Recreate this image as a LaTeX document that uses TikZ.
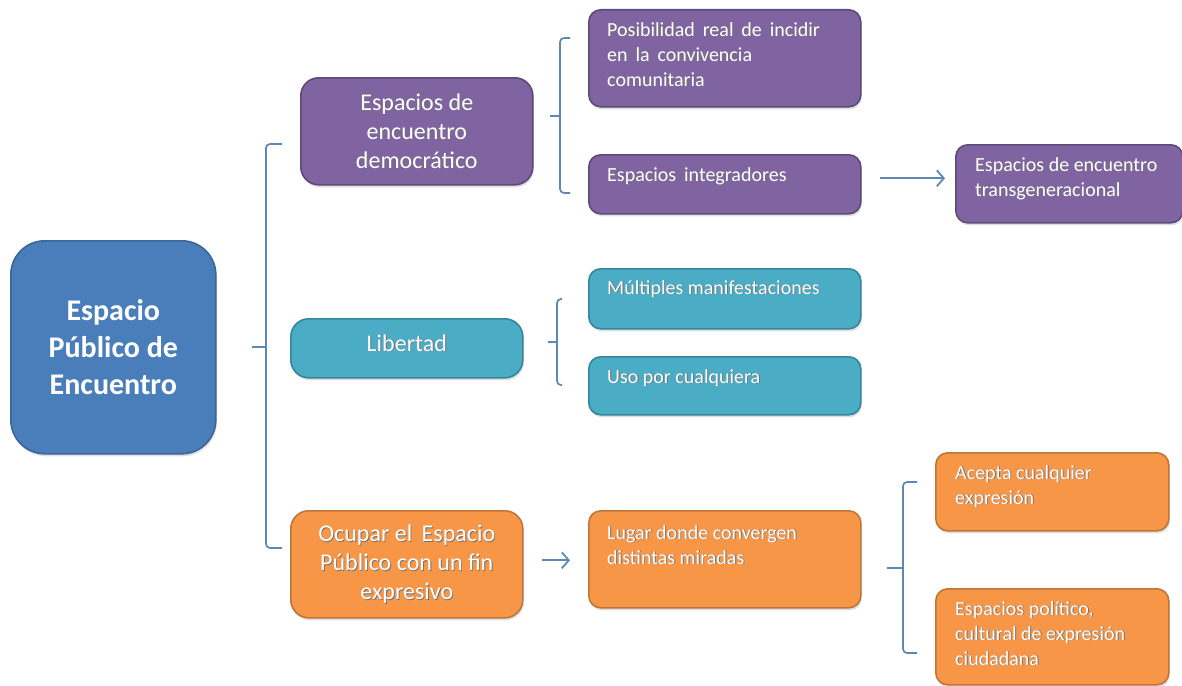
\documentclass[tikz,border=0pt]{standalone}
\usepackage{fontspec}
\setmainfont{Carlito}
\usetikzlibrary{arrows.meta,shadows}

\definecolor{mainfill}{HTML}{4A7EBB}
\definecolor{maindraw}{HTML}{3A669A}
\definecolor{purfill}{HTML}{8064A2}
\definecolor{purdraw}{HTML}{5C4A7A}
\definecolor{tealfill}{HTML}{4BACC6}
\definecolor{tealdraw}{HTML}{35869C}
\definecolor{orfill}{HTML}{F79646}
\definecolor{ordraw}{HTML}{BE7639}
\definecolor{linkcol}{HTML}{5F87B4}

% white text with a soft dark shadow behind it
\newcommand\shtxt[1]{\leavevmode\rlap{\hspace{0.9pt}\raisebox{-0.9pt}{\textcolor{black!55}{#1}}}#1}

\tikzset{
  box/.style={draw, line width=1.6pt, rounded corners=12pt, inner sep=0pt,
    anchor=north west, text=white, align=center,
    drop shadow={shadow xshift=1pt, shadow yshift=-2.5pt, opacity=0.25}},
  mainbox/.style={box, fill=mainfill, draw=maindraw, rounded corners=34pt,
    font=\fontsize{30}{37}\selectfont\bfseries},
  purbox/.style={box, fill=purfill, draw=purdraw},
  tealbox/.style={box, fill=tealfill, draw=tealdraw},
  orbox/.style={box, fill=orfill, draw=ordraw},
  lvlone/.style={font=\fontsize{24}{29}\selectfont, rounded corners=18pt},
  boxtext/.style={anchor=north west, align=left, inner sep=0pt, text=white,
    font=\fontsize{20}{25}\selectfont},
  brace/.style={draw=linkcol, line width=1.7pt, rounded corners=4pt},
  link/.style={draw=linkcol, line width=1.8pt,
    -{Straight Barb[length=7pt,width=16pt,line width=1.8pt]}},
}

\begin{document}
\begin{tikzpicture}[x=1pt, y=-1pt]
\useasboundingbox (0,0) rectangle (1182,685);

% root
\node[mainbox, minimum width=205pt, minimum height=213pt] (root) at (10,240)
  {Espacio\\Público de\\Encuentro};

% first level
\node[purbox, lvlone, minimum width=232pt, minimum height=107pt] (dem) at (300,77)
  {\shtxt{Espacios de}\\\shtxt{encuentro}\\\shtxt{democrático}};
\node[tealbox, lvlone, minimum width=232pt, minimum height=59pt] (lib) at (290,318)
  {\raisebox{5pt}[\height][\depth]{\shtxt{Libertad}}};
\node[orbox, lvlone, minimum width=232pt, minimum height=107pt] (ocu) at (290,510)
  {\shtxt{Ocupar el\, Espacio}\\\shtxt{Público con un fin}\\\shtxt{expresivo}};

% second level: boxes with top-left text
\node[purbox, minimum width=272pt, minimum height=97pt] (pos) at (588,9) {};
\node[boxtext] (posT) at ([xshift=19pt,yshift=-13pt]pos.north west)
  {\shtxt{Posibilidad\, real\, de\, incidir}\\\shtxt{en\, la\, convivencia}\\\shtxt{comunitaria}};

\node[purbox, minimum width=272pt, minimum height=59pt] (int) at (588,154) {};
\node[boxtext] (intT) at ([xshift=19pt,yshift=-13pt]int.north west)
  {\shtxt{Espacios\, integradores}};

\node[purbox, minimum width=227pt, minimum height=78pt] (tra) at (955,144) {};
\node[boxtext] (traT) at ([xshift=20pt,yshift=-13pt]tra.north west)
  {\shtxt{Espacios de encuentro}\\\shtxt{transgeneracional}};

\node[tealbox, minimum width=272pt, minimum height=60pt] (mul) at (588,268) {};
\node[boxtext] (mulT) at ([xshift=19pt,yshift=-12pt]mul.north west)
  {\shtxt{Múltiples manifestaciones}};

\node[tealbox, minimum width=272pt, minimum height=58pt] (uso) at (588,356) {};
\node[boxtext] (usoT) at ([xshift=19pt,yshift=-13pt]uso.north west)
  {\shtxt{Uso por cualquiera}};

\node[orbox, minimum width=272pt, minimum height=97pt] (lug) at (588,510) {};
\node[boxtext] (lugT) at ([xshift=19pt,yshift=-15pt]lug.north west)
  {\shtxt{Lugar donde convergen}\\\shtxt{distintas miradas}};

\node[orbox, minimum width=233pt, minimum height=78pt] (ace) at (935,452) {};
\node[boxtext] (aceT) at ([xshift=20pt,yshift=-13pt]ace.north west)
  {\shtxt{Acepta cualquier}\\\shtxt{expresión}};

\node[orbox, minimum width=233pt, minimum height=96pt] (pol) at (935,588) {};
\node[boxtext] (polT) at ([xshift=20pt,yshift=-13pt]pol.north west)
  {\shtxt{Espacios político,}\\\shtxt{cultural de expresión}\\\shtxt{ciudadana}};

% brace anchor points
\coordinate (bRoot) at (252,347);
\coordinate (bRootT) at (282,144);
\coordinate (bRootB) at (282,548);
\coordinate (bDem) at (550,116);
\coordinate (bDemT) at (570,38);
\coordinate (bDemB) at (570,193);
\coordinate (bLib) at (548,342);
\coordinate (bLibT) at (562,299);
\coordinate (bLibB) at (562,385);
\coordinate (bLug) at (887,568);
\coordinate (bLugT) at (917,482);
\coordinate (bLugB) at (917,653);

% braces
\draw[brace] (bRootT) -- (bRootT -| 266,0) -- (bRootB -| 266,0) -- (bRootB);
\draw[brace] (bRoot) -- (bRoot -| 266,0);
\draw[brace] (bDemT) -- (bDemT -| 560,0) -- (bDemB -| 560,0) -- (bDemB);
\draw[brace] (bDem) -- (bDem -| 560,0);
\draw[brace] (bLibT) -- (bLibT -| 557,0) -- (bLibB -| 557,0) -- (bLibB);
\draw[brace] (bLib) -- (bLib -| 557,0);
\draw[brace] (bLugT) -- (bLugT -| 903,0) -- (bLugB -| 903,0) -- (bLugB);
\draw[brace] (bLug) -- (bLug -| 903,0);

% arrows
\draw[link, shorten <=18pt, shorten >=10pt] ([yshift=6pt]int.east) -- ([yshift=6pt]int.east -| tra.west);
\draw[link, shorten <=18pt, shorten >=18pt] ([yshift=4pt]ocu.east) -- ([yshift=4pt]ocu.east -| lug.west);
\end{tikzpicture}
\end{document}
